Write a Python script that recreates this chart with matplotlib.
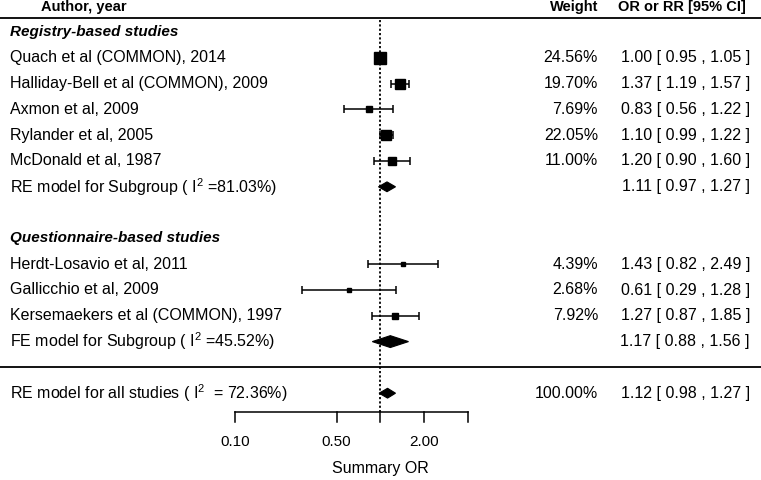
import numpy as np
import matplotlib
matplotlib.use("Agg")
import matplotlib.pyplot as plt
from matplotlib import transforms

plt.rcParams['font.family'] = ['Liberation Sans', 'DejaVu Sans']
plt.rcParams['mathtext.fontset'] = 'custom'
plt.rcParams['mathtext.rm'] = 'Liberation Sans'
plt.rcParams['mathtext.it'] = 'Liberation Sans:italic'
plt.rcParams['mathtext.bf'] = 'Liberation Sans:bold'

# ---------------- data ----------------
group1_title = "Registry-based studies"
group1_studies = ["Quach et al (COMMON), 2014", "Halliday-Bell et al (COMMON), 2009",
                  "Axmon et al, 2009", "Rylander et al, 2005", "McDonald et al, 1987"]
group1_weight = [24.56, 19.70, 7.69, 22.05, 11.00]
group1_est = [1.00, 1.37, 0.83, 1.10, 1.20]
group1_lo = [0.95, 1.19, 0.56, 0.99, 0.90]
group1_hi = [1.05, 1.57, 1.22, 1.22, 1.60]
group1_summary_label = r"RE model for Subgroup ( $\mathrm{I}^{2}$ =81.03%)"
group1_summary = [1.11, 0.97, 1.27]

group2_title = "Questionnaire-based studies"
group2_studies = ["Herdt-Losavio et al, 2011", "Gallicchio et al, 2009",
                  "Kersemaekers et al (COMMON), 1997"]
group2_weight = [4.39, 2.68, 7.92]
group2_est = [1.43, 0.61, 1.27]
group2_lo = [0.82, 0.29, 0.87]
group2_hi = [2.49, 1.28, 1.85]
group2_summary_label = r"FE model for Subgroup ( $\mathrm{I}^{2}$ =45.52%)"
group2_summary = [1.17, 0.88, 1.56]

overall_label = r"RE model for all studies ( $\mathrm{I}^{2}$  = 72.36%)"
overall_summary = [1.12, 0.98, 1.27]
overall_weight = 100.00

tick_values = [0.1, 0.5, 1.0, 2.0, 4.0]
tick_labels = ["0.10", "0.50", "", "2.00", ""]
xlabel = "Summary OR"
headers = ["Author, year", "Weight", "OR or RR [95% CI]"]

# ---------------- figure ----------------
W, H = 761, 480
fig = plt.figure(figsize=(W / 100, H / 100), dpi=100)
ax = fig.add_axes([0, 0, 1, 1])
ax.set_xscale('log')
px_per_ln = 63.16
x_one = 380.4
ax.set_xlim(np.exp(-x_one / px_per_ln), np.exp((W - x_one) / px_per_ln))
row_h = 25.8
y_first = 32.0
ax.set_ylim((H - y_first) / row_h + 1, (0 - y_first) / row_h + 1)
ax.axis('off')

tr = transforms.blended_transform_factory(ax.transAxes, ax.transData)
def fx(px):
    return px / W

FS = 11.5
left_x = fx(10)
weight_x = fx(598)
ci_x = fx(750)

def fmt_ci(e, l, h):
    return f"{e:.2f} [ {l:.2f} , {h:.2f} ]"

# header
ax.text(fx(41), 0.05, headers[0], transform=tr, ha='left', va='center', fontsize=10.5, fontweight='bold')
ax.text(weight_x, 0.05, headers[1], transform=tr, ha='right', va='center', fontsize=10.5, fontweight='bold')
ax.text(fx(746), 0.05, headers[2], transform=tr, ha='right', va='center', fontsize=10.5, fontweight='bold')
ax.plot([0, 1], [0.45, 0.45], transform=tr, color='black', lw=1.3)

def draw_study(r, name, w, e, l, h):
    ax.text(left_x, r, name, transform=tr, ha='left', va='center', fontsize=FS)
    ax.errorbar([e], [r], xerr=[[e - l], [h - e]], fmt='none', ecolor='black',
                elinewidth=1.1, capsize=3, capthick=1.1)
    side_px = 2.22 * np.sqrt(w)
    ax.plot([e], [r], marker='s', color='black', markersize=side_px * 0.72, linestyle='none')
    ax.text(weight_x, r, f"{w:.2f}%", transform=tr, ha='right', va='center', fontsize=FS)
    ax.text(ci_x, r, fmt_ci(e, l, h), transform=tr, ha='right', va='center', fontsize=FS)

def draw_diamond(r, label, summ, weight=None, half=0.19):
    e, l, h = summ
    ax.fill([l, e, h, e], [r, r - half, r, r + half], color='black', lw=0.8, edgecolor='black')
    ax.text(left_x, r, label, transform=tr, ha='left', va='center', fontsize=FS)
    if weight is not None:
        ax.text(weight_x, r, f"{weight:.2f}%", transform=tr, ha='right', va='center', fontsize=FS)
    ax.text(ci_x, r, fmt_ci(e, l, h), transform=tr, ha='right', va='center', fontsize=FS)

# group 1
r = 1
ax.text(left_x, r, group1_title, transform=tr, ha='left', va='center', fontsize=11,
        fontweight='bold', fontstyle='italic')
for i in range(len(group1_studies)):
    r += 1
    draw_study(r, group1_studies[i], group1_weight[i], group1_est[i], group1_lo[i], group1_hi[i])
r += 1
draw_diamond(r, group1_summary_label, group1_summary)

# group 2
r += 2
ax.text(left_x, r, group2_title, transform=tr, ha='left', va='center', fontsize=11,
        fontweight='bold', fontstyle='italic')
for i in range(len(group2_studies)):
    r += 1
    draw_study(r, group2_studies[i], group2_weight[i], group2_est[i], group2_lo[i], group2_hi[i])
r += 1
draw_diamond(r, group2_summary_label, group2_summary, half=0.23)

# separator
r += 1
ax.plot([0, 1], [r, r], transform=tr, color='black', lw=1.3)

# overall
r += 1
draw_diamond(r, overall_label, overall_summary, weight=overall_weight)

# reference line
axis_y = r + 0.73
ax.plot([1, 1], [0.55, axis_y], color='black', lw=1.3, linestyle=(0, (1.2, 1.2)))

# x axis
ax.plot([tick_values[0], tick_values[-1]], [axis_y, axis_y], color='black', lw=1.1)
for tv, tl in zip(tick_values, tick_labels):
    ax.plot([tv, tv], [axis_y, axis_y + 0.38], color='black', lw=1.1)
    if tl:
        ax.text(tv, axis_y + 1.18, tl, ha='center', va='center', fontsize=11)
ax.text(1.0, axis_y + 2.17, xlabel, ha='center', va='center', fontsize=11.5)

fig.savefig("out.png", dpi=100)
